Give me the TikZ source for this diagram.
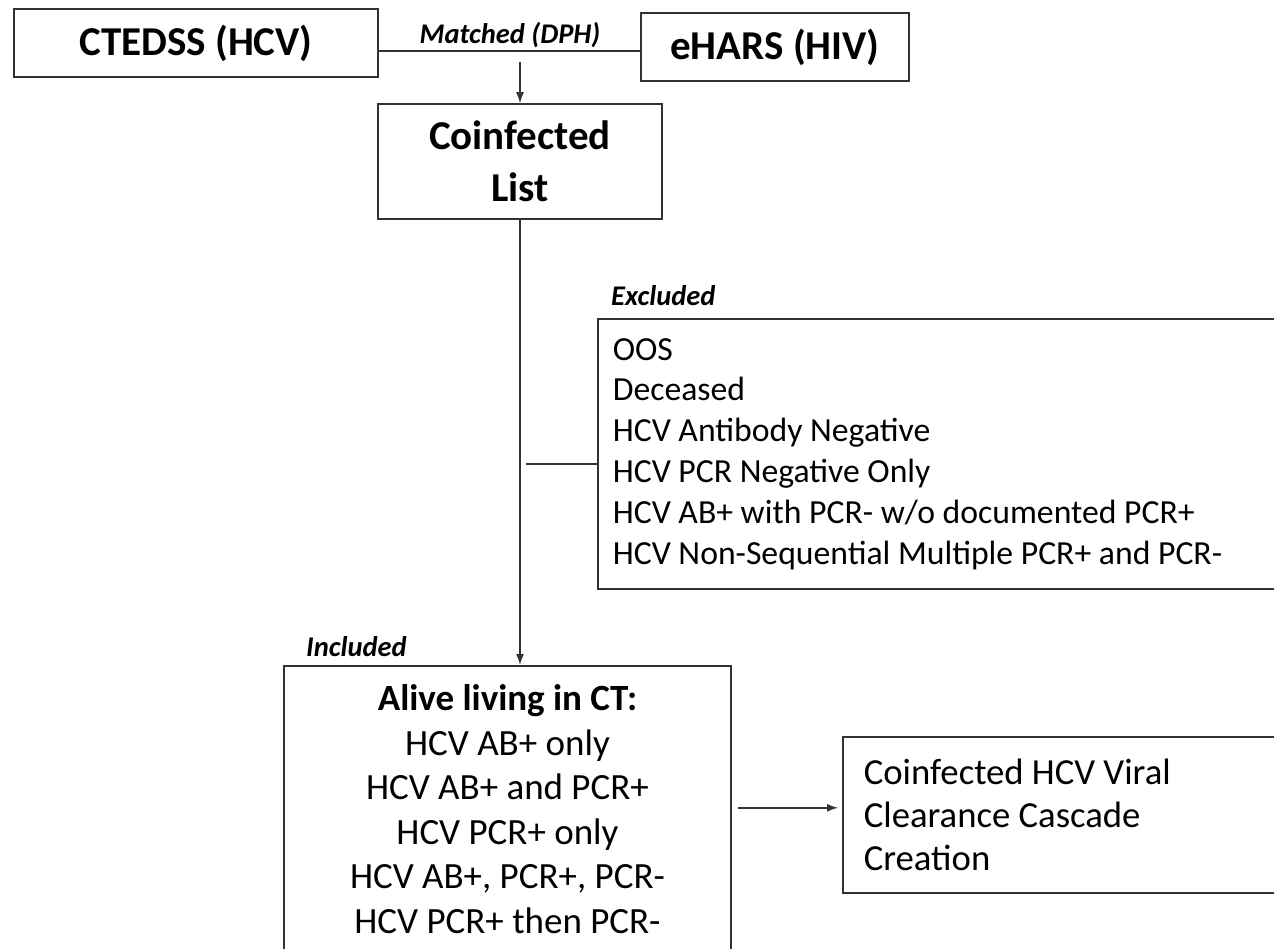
\documentclass[tikz,border=0pt]{standalone}
\usepackage{fontspec}
\setmainfont{Carlito}
\usetikzlibrary{arrows.meta}

\begin{document}
\begin{tikzpicture}[x=1pt,y=-1pt,
        box/.style={draw=black!80, line width=1.6pt, rectangle, inner sep=0pt},
        title/.style={box, font=\bfseries\fontsize{41}{52}\selectfont, align=center},
        lbl/.style={font=\bfseries\itshape\fontsize{28.5}{34}\selectfont, inner sep=0pt},
        conn/.style={draw=black!80, line width=1.4pt},
        arr/.style={conn, -{Latex[length=11pt,width=8pt]}}]
                \useasboundingbox (0,0) rectangle (1274,949);
                \clip (0,0) rectangle (1274,949);
                \node[title, minimum width=364pt, minimum height=68pt] (ctedss) at (196,43) {CTEDSS (HCV)};
                \node[title, minimum width=268pt, minimum height=68pt] (ehars) at (775,47) {eHARS (HIV)};
                \node[title, minimum width=284pt, minimum height=115pt] (coinf) at (520,161.5) {Coinfected\\List};
                \node[box, anchor=north west, text width=690pt, inner xsep=15pt, minimum height=270pt, align=flush left, font=\fontsize{33.7}{40.8}\selectfont] (excl) at (597,318) {OOS\\Deceased\\HCV Antibody Negative\\HCV PCR Negative Only\\HCV AB+ with PCR- w/o documented PCR+\\HCV Non-Sequential Multiple PCR+ and PCR-};
                \node[box, anchor=north, minimum width=447pt, inner ysep=19pt, align=center, font=\fontsize{37}{44.5}\selectfont] (alive) at (507.5,665) {\textbf{Alive living in CT:}\\HCV AB+ only\\HCV AB+ and PCR+\\HCV PCR+ only\\HCV AB+, PCR+, PCR-\\HCV PCR+ then PCR-};
                \node[box, anchor=north west, text width=440pt, inner xsep=21pt, minimum height=156pt, align=flush left, font=\fontsize{36.7}{43}\selectfont] (casc) at (842,736) {Coinfected HCV Viral\\Clearance Cascade\\Creation};
                \node[lbl, anchor=base] (matched) at (510,44) {Matched (DPH)};
                \node[lbl, anchor=base west] (exlbl) at (611,306) {Excluded};
                \node[lbl, anchor=base west] (inlbl) at (306,656) {Included};
                \coordinate (m) at (520,51);
                \coordinate (stub) at (526,464);
                \coordinate (ca) at ([yshift=7pt]casc.west);
                \draw[conn] (ctedss.east |- m) -- (ehars.west |- m);
                \draw[arr] ([yshift=-11pt]m) -- (coinf.north);
                \draw[arr] (coinf.south) -- (coinf.south |- alive.north);
                \draw[conn] (stub) -- (stub -| excl.west);
                \draw[arr] ([xshift=6pt]alive.east |- ca) -- ([xshift=-4pt]ca);
            \end{tikzpicture}
\end{document}
